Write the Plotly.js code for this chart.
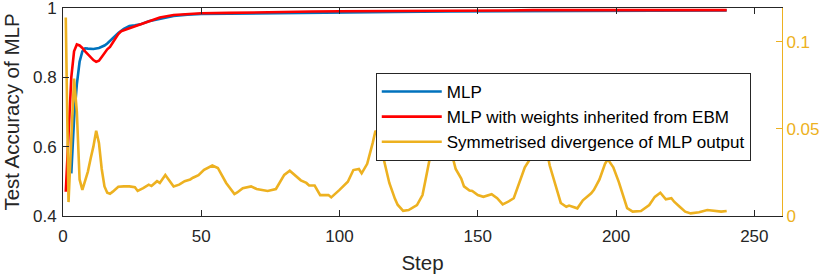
<!DOCTYPE html>
<html>
<head>
<meta charset="utf-8">
<script src="https://cdn.plot.ly/plotly-3.0.1.min.js"></script>
<style>html,body{margin:0;padding:0;background:#fff;}#chart{width:830px;height:276px;}</style>
</head>
<body>
<div id="chart"></div>
<script>
// ---- Data ----
const mlpSteps = [3,4,5,6,7,8,9,11,13,15,16,18,20,22,24,26,28,31,35,40,45,50,60,70,80,100,120,140,160,180,200,220,240];
const mlpAcc   = [0.523,0.68,0.78,0.845,0.875,0.884,0.883,0.882,0.885,0.892,0.898,0.913,0.928,0.940,0.948,0.950,0.953,0.962,0.969,0.977,0.981,0.983,0.984,0.985,0.987,0.988,0.989,0.990,0.991,0.991,0.992,0.992,0.993];

const ebmSteps = [1,2,3,4,5,6,7,8,9,10,11,12,13,14,15,16,17,18,19,20,21,23,25,28,30,33,35,40,45,50,60,70,80,90,100,110,120,130,140,150,160,170,180,190,200,210,220,230,240];
const ebmAcc   = [0.470,0.66,0.80,0.875,0.895,0.892,0.885,0.875,0.866,0.857,0.850,0.845,0.848,0.859,0.870,0.881,0.888,0.902,0.913,0.925,0.933,0.939,0.945,0.953,0.960,0.968,0.973,0.980,0.983,0.985,0.986,0.988,0.990,0.990,0.991,0.991,0.992,0.992,0.992,0.993,0.993,0.994,0.993,0.994,0.994,0.994,0.994,0.994,0.994];

const divSteps = [1,2,3,4,5,6,7,8,9,10,11,12,13,14,15,16,17,18,20,22,24,26,27,29,31,32,34,35,37,40,42,44,46,47,49,51,54,56,59,62,63,65,68,70,72,74,77,80,82,84,86,88,89,91,93,96,97,100,103,105,107,108,110,112,113,114,115,116,118,120,121,123,125,128,130,131,132,133,134,135,136,137,138,139,140,141,142,144,145,147,148,150,152,155,157,159,161,163,165,167,169,171,172,173,174,175,176,178,180,182,183,186,188,191,192,194,196,197,199,201,203,204,206,209,212,214,216,217,218,220,221,223,225,227,230,233,235,238,240];
const divVals  = [0.114,0.008,0.044,0.079,0.060,0.021,0.015,0.020,0.0255,0.033,0.040,0.049,0.042,0.027,0.017,0.0134,0.0128,0.014,0.0168,0.017,0.017,0.0165,0.0144,0.016,0.018,0.0172,0.020,0.019,0.0236,0.017,0.018,0.020,0.021,0.022,0.0235,0.0265,0.029,0.0276,0.019,0.0126,0.0135,0.016,0.017,0.0155,0.015,0.0144,0.0155,0.0236,0.026,0.023,0.0205,0.019,0.0175,0.0175,0.012,0.012,0.0107,0.015,0.0197,0.0264,0.027,0.0245,0.030,0.042,0.049,0.046,0.039,0.032,0.019,0.010,0.0065,0.003,0.0034,0.0063,0.012,0.020,0.029,0.036,0.043,0.052,0.056,0.057,0.052,0.046,0.040,0.033,0.027,0.0215,0.017,0.0146,0.0144,0.012,0.011,0.0125,0.0102,0.0067,0.0082,0.0102,0.0195,0.028,0.033,0.036,0.040,0.043,0.043,0.037,0.029,0.0175,0.0075,0.0053,0.006,0.0044,0.009,0.013,0.015,0.021,0.030,0.0326,0.028,0.0195,0.010,0.0045,0.0025,0.0029,0.0063,0.011,0.0134,0.0115,0.0096,0.0102,0.0082,0.0053,0.0025,0.0015,0.0021,0.0034,0.003,0.0025,0.0029];

const seriesNames = ["MLP", "MLP with weights inherited from EBM", "Symmetrised divergence of MLP output"];
const xTicks = [0, 50, 100, 150, 200, 250];
const xTickText = ["0", "50", "100", "150", "200", "250"];
const yTicks = [0.4, 0.6, 0.8, 1];
const yTickText = ["0.4", "0.6", "0.8", "1"];
const y2Ticks = [0, 0.05, 0.1];
const y2TickText = ["0", "0.05", "0.1"];

// ---- Styling ----
const FONT = "Liberation Sans, Arial, Helvetica, sans-serif";
const AX = "#262626";
const ORANGE = "#EDB120";

const traces = [
  {x: mlpSteps, y: mlpAcc, name: seriesNames[0], type: "scatter", mode: "lines",
   line: {color: "#0072BD", width: 2.6}},
  {x: ebmSteps, y: ebmAcc, name: seriesNames[1], type: "scatter", mode: "lines",
   line: {color: "#FF0000", width: 2.6}},
  {x: divSteps, y: divVals, name: seriesNames[2], type: "scatter", mode: "lines", yaxis: "y2",
   line: {color: ORANGE, width: 2.6}}
];

const layout = {
  width: 830, height: 276,
  margin: {l: 63, r: 48, t: 8, b: 60},
  paper_bgcolor: "#fff", plot_bgcolor: "#fff",
  font: {family: FONT, size: 17, color: AX},
  showlegend: true,
  legend: {x: 0.435, y: 0.6875, xanchor: "left", yanchor: "top",
           bgcolor: "#fff", bordercolor: AX, borderwidth: 1, itemwidth: 60,
           font: {family: FONT, size: 17, color: "#000"}, tracegroupgap: 0},
  xaxis: {range: [0, 260], tickvals: xTicks, ticktext: xTickText,
          showline: true, linecolor: AX, linewidth: 1, mirror: "ticks",
          ticks: "inside", ticklen: 6, tickcolor: AX, showgrid: false, zeroline: false,
          ticklabelstandoff: 5,
          tickfont: {family: FONT, size: 17, color: AX},
          title: {text: "Step", font: {family: FONT, size: 20.5, color: AX}, standoff: 10}},
  yaxis: {range: [0.4, 1.0002], tickvals: yTicks, ticktext: yTickText,
          showline: true, linecolor: AX, linewidth: 1,
          ticks: "inside", ticklen: 6, tickcolor: AX, showgrid: false, zeroline: false,
          ticklabelstandoff: 2, ticklabeloverflow: "allow",
          tickfont: {family: FONT, size: 17, color: AX},
          title: {text: "Test Accuracy of MLP", font: {family: FONT, size: 20.5, color: AX}, standoff: 8}},
  yaxis2: {range: [0, 0.1195], tickvals: y2Ticks, ticktext: y2TickText,
           overlaying: "y", side: "right",
           showline: true, linecolor: ORANGE, linewidth: 1,
           ticks: "inside", ticklen: 6, tickcolor: ORANGE, showgrid: false, zeroline: false,
           tickfont: {family: FONT, size: 17, color: ORANGE}}
};

Plotly.newPlot("chart", traces, layout, {staticPlot: true, displayModeBar: false});
</script>
</body>
</html>
